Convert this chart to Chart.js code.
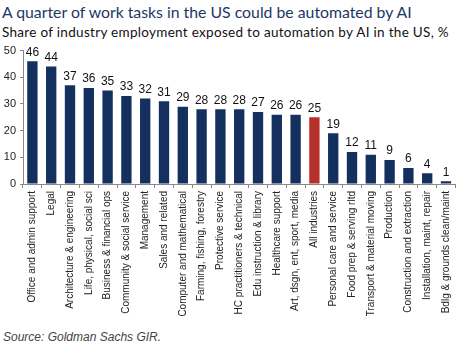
<!DOCTYPE html>
<html>
<head>
<meta charset="utf-8">
<script src="https://cdn.jsdelivr.net/npm/chart.js@4"></script>
<style>
  body { margin: 0; background: #fff; width: 461px; height: 354px; overflow: hidden; font-family: "Liberation Sans", Arial, sans-serif; }
  #title { position: absolute; left: 2px; top: 2px; font-family: Lato, "Open Sans", sans-serif; font-size: 15.8px; color: #1d3766; white-space: nowrap; }
  #subtitle { position: absolute; left: 2px; top: 24px; font-family: Lato, "Open Sans", sans-serif; font-size: 13.5px; letter-spacing: 0.3px; color: #111; white-space: nowrap; }
  #wrap { position: absolute; left: 0; top: 40px; width: 461px; height: 280px; }
  #source { position: absolute; left: 3px; top: 330px; font-size: 12px; font-style: italic; color: #444; }
</style>
</head>
<body>
<div id="title">A quarter of work tasks in the US could be automated by AI</div>
<div id="subtitle">Share of industry employment exposed to automation by AI in the US, %</div>
<div id="wrap"><canvas id="chart"></canvas></div>
<div id="source">Source: Goldman Sachs GIR.</div>
<script>
// Categories and values
const industries = [
  'Office and admin support', 'Legal', 'Architecture & engineering', 'Life, physical, social sci',
  'Business & financial ops', 'Community & social service', 'Management', 'Sales and related',
  'Computer and mathematical', 'Farming, fishing, forestry', 'Protective service',
  'HC practitioners & technical', 'Edu instruction & library', 'Healthcare support',
  'Art, dsgn, ent, sport, media', 'All industries', 'Personal care and service',
  'Food prep & serving rltd', 'Transport & material moving', 'Production',
  'Construction and extraction', 'Installation, maint, repair', 'Bdlg & grounds clean/maint'
];
const exposure = [46, 44, 37, 36, 35, 33, 32, 31, 29, 28, 28, 28, 27, 26, 26, 25, 19, 12, 11, 9, 6, 4, 1];
const yTicks = [0, 10, 20, 30, 40, 50];

const navy = '#14305f';
const red = '#b8302b';

// Draw value labels above each bar
const valueLabels = {
  id: 'valueLabels',
  afterDatasetsDraw(chart) {
    const ctx = chart.ctx;
    const meta = chart.getDatasetMeta(0);
    ctx.save();
    ctx.font = '12px "Liberation Sans", Arial, sans-serif';
    ctx.fillStyle = '#111';
    ctx.textAlign = 'center';
    ctx.textBaseline = 'bottom';
    meta.data.forEach((bar, i) => {
      ctx.fillText(exposure[i], bar.x, bar.y - 3);
    });
    ctx.restore();
  }
};

new Chart(document.getElementById('chart'), {
  type: 'bar',
  data: {
    labels: industries,
    datasets: [{
      data: exposure,
      backgroundColor: industries.map(c => c === 'All industries' ? red : navy),
      barPercentage: 0.55,
      categoryPercentage: 1.0
    }]
  },
  options: {
    responsive: true,
    maintainAspectRatio: false,
    animation: false,
    layout: { padding: { top: 9, right: 0, left: 0, bottom: 0 } },
    plugins: {
      legend: { display: false },
      tooltip: { enabled: false }
    },
    scales: {
      x: {
        offset: true,
        grid: { offset: true, drawOnChartArea: false, drawTicks: true, tickLength: 4, color: '#888' },
        border: { color: '#888' },
        ticks: {
          autoSkip: false,
          maxRotation: 90,
          minRotation: 90,
          padding: 3,
          color: '#222',
          font: { family: '"Liberation Sans", Arial, sans-serif', size: 10 }
        },
        afterFit(scale) { scale.height = 280 - 144; }
      },
      y: {
        min: 0,
        max: 50,
        afterBuildTicks(scale) { scale.ticks = yTicks.map(v => ({ value: v })); },
        grid: { drawOnChartArea: false, drawTicks: true, tickLength: 3, color: '#888' },
        border: { color: '#888' },
        ticks: {
          padding: 4,
          color: '#222',
          font: { family: '"Liberation Sans", Arial, sans-serif', size: 11 }
        },
        afterFit(scale) { scale.width = 23; }
      }
    }
  },
  plugins: [valueLabels]
});
</script>
</body>
</html>
